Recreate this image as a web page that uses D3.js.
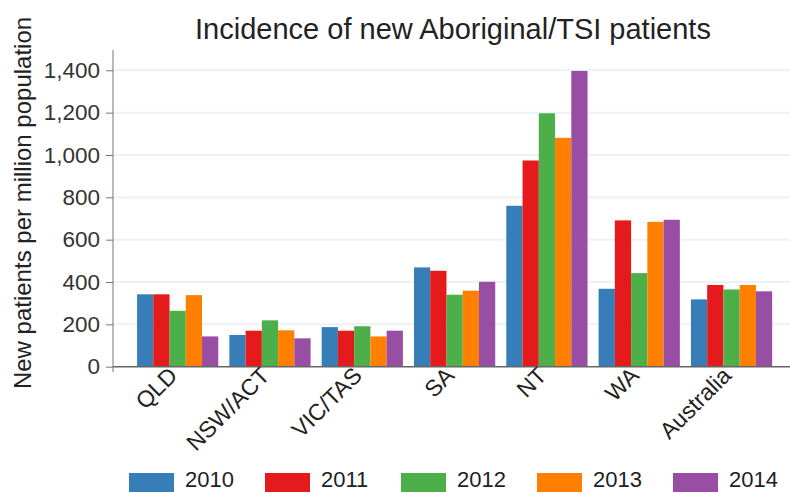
<!DOCTYPE html>
<html>
<head>
<meta charset="utf-8">
<script src="https://cdn.jsdelivr.net/npm/d3@7"></script>
<style>
  body { margin: 0; background: #fff; }
  svg { display: block; font-family: "Liberation Sans", Arial, sans-serif; }
</style>
</head>
<body>
<div id="chart"></div>
<script>
// data
const regions = ["QLD", "NSW/ACT", "VIC/TAS", "SA", "NT", "WA", "Australia"]
const years = ["2010", "2011", "2012", "2013", "2014"]
const v2010 = [342, 150, 187, 469, 760, 368, 318]
const v2011 = [342, 170, 170, 453, 974, 691, 386]
const v2012 = [264, 219, 191, 340, 1197, 442, 365]
const v2013 = [338, 172, 143, 359, 1081, 684, 386]
const v2014 = [143, 134, 170, 401, 1397, 694, 356]
const yTicks = [0, 200, 400, 600, 800, 1000, 1200, 1400]
const colors = ["#377eb8", "#e41a1c", "#4daf4a", "#ff7f00", "#984ea3"]

const series = [v2010, v2011, v2012, v2013, v2014]
const rows = regions.map((r, i) => ({ region: r, values: series.map((s, j) => ({ year: years[j], value: s[i] })) }))

const W = 790, H = 492
const svg = d3.select('#chart').append('svg').attr('width', W).attr('height', H)

const x0 = d3.scaleBand().domain(regions).range([131.5, 777.7]).paddingInner(0.12).paddingOuter(0.06)
const x1 = d3.scaleBand().domain(years).range([0, x0.bandwidth()])
const y = d3.scaleLinear().domain([0, 1400]).range([366.7, 70.3])
const color = d3.scaleOrdinal().domain(years).range(colors)

const axisLeftX = 113

// grid
svg.append('g').selectAll('line').data(yTicks.filter(d => d > 0)).enter().append('line')
  .attr('x1', axisLeftX).attr('x2', W)
  .attr('y1', d => y(d)).attr('y2', d => y(d))
  .attr('stroke', '#edf2f5').attr('stroke-width', 2)

// bars
const groups = svg.append('g').selectAll('g').data(rows).enter().append('g')
  .attr('transform', d => `translate(${x0(d.region)},0)`)
groups.selectAll('rect').data(d => d.values).enter().append('rect')
  .attr('x', d => x1(d.year))
  .attr('width', x1.bandwidth())
  .attr('y', d => y(d.value))
  .attr('height', d => y(0) - y(d.value))
  .attr('fill', d => color(d.year))

// y axis
const axisY = d3.axisLeft(y).tickValues(yTicks).tickSize(7).tickPadding(6).tickFormat(d3.format(','))
const gy = svg.append('g').attr('transform', `translate(${axisLeftX},0)`).call(axisY)
gy.select('.domain').remove()
gy.selectAll('.tick line').attr('stroke', '#777')
gy.selectAll('.tick text').attr('fill', '#333').style('font-size', '22.5px')
svg.append('line').attr('x1', axisLeftX).attr('x2', axisLeftX).attr('y1', 50).attr('y2', 372)
  .attr('stroke', '#777').attr('stroke-width', 1)

// x axis baseline
svg.append('line').attr('x1', axisLeftX).attr('x2', W).attr('y1', y(0)).attr('y2', y(0))
  .attr('stroke', '#666').attr('stroke-width', 1.5)

// x labels
svg.append('g').selectAll('text').data(regions).enter().append('text')
  .attr('transform', d => `translate(${x0(d) + x0.bandwidth() / 2 + 1},377) rotate(-45)`)
  .attr('text-anchor', 'end')
  .attr('fill', '#222')
  .style('font-size', '23px')
  .text(d => d)

// title
svg.append('text').attr('x', 453).attr('y', 39).attr('text-anchor', 'middle')
  .attr('fill', '#222').style('font-size', '29px')
  .text('Incidence of new Aboriginal/TSI patients')

// y label
svg.append('text').attr('transform', `translate(31,203) rotate(-90)`).attr('text-anchor', 'middle')
  .attr('fill', '#222').style('font-size', '24px')
  .text('New patients per million population')

// legend
const legend = svg.append('g').selectAll('g').data(years).enter().append('g')
  .attr('transform', (d, i) => `translate(${129 + i * 136},473)`)
legend.append('rect').attr('width', 45).attr('height', 20).attr('fill', d => color(d))
legend.append('text').attr('x', 56).attr('y', 14).attr('fill', '#222').style('font-size', '22px').text(d => d)
</script>
</body>
</html>
